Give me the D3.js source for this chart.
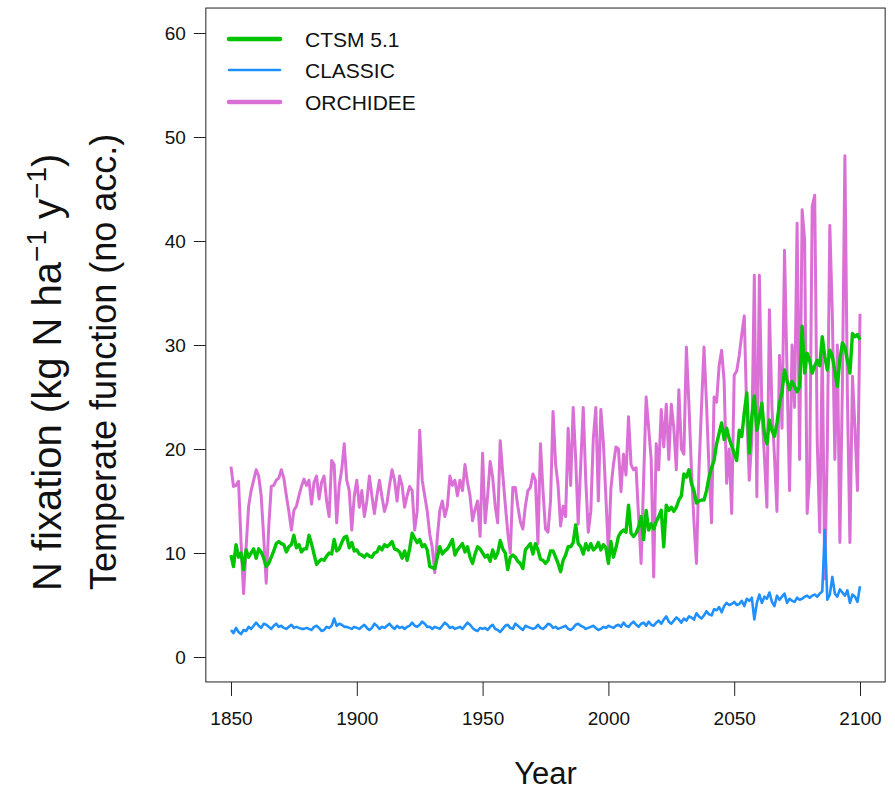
<!DOCTYPE html>
<html>
<head>
<meta charset="utf-8">
<script src="https://cdn.jsdelivr.net/npm/d3@7"></script>
<style>
  body { margin: 0; background: #fff; }
  text { font-family: "Liberation Sans", Arial, Helvetica, sans-serif; fill: #111; }
</style>
</head>
<body>
<svg id="chart" width="895" height="791"></svg>
<script>
// Annual N fixation, temperate function (no acclimation), 1850–2100
const startYear = 1850;
const endYear = 2100;

const ctsm = [
  9.8, 8.7, 10.8, 9.6, 10.0, 8.4, 10.3, 9.6, 10.0, 10.4,
  9.5, 10.4, 10.1, 9.5, 8.7, 9.0, 9.6, 10.2, 10.9, 11.1,
  10.9, 10.8, 10.1, 10.6, 10.8, 11.7, 10.5, 10.8, 10.1, 10.4,
  10.4, 11.7, 10.9, 9.9, 8.9, 9.2, 9.4, 9.3, 9.7, 10.0,
  9.9, 11.3, 10.2, 10.4, 11.0, 11.5, 11.6, 10.5, 11.0, 10.2,
  10.3, 9.9, 9.8, 9.6, 9.9, 9.7, 9.6, 10.0, 10.1, 10.6,
  10.3, 10.8, 10.6, 10.8, 11.1, 10.4, 10.3, 10.1, 9.5, 10.2,
  9.3, 10.4, 11.9, 11.4, 11.0, 11.3, 10.6, 10.8, 10.3, 8.7,
  8.6, 8.5, 9.6, 10.6, 9.9, 10.2, 10.4, 10.8, 11.3, 9.8,
  10.3, 10.6, 10.9, 10.1, 10.6, 9.6, 9.0, 9.9, 10.6, 10.4,
  10.0, 9.6, 9.8, 9.2, 10.3, 9.5, 10.0, 11.2, 10.4, 10.0,
  8.4, 9.6, 9.8, 9.6, 9.2, 9.0, 8.5, 10.3, 10.6, 10.9,
  9.9, 10.9, 10.3, 9.4, 9.3, 9.0, 9.3, 10.2, 10.2, 9.6,
  9.0, 8.2, 9.3, 9.8, 10.6, 10.6, 11.0, 12.7, 10.9, 10.6,
  9.9, 10.9, 10.3, 10.9, 10.3, 10.5, 11.0, 10.3, 10.8, 10.5,
  9.0, 11.1, 9.6, 10.5, 11.6, 12.0, 12.2, 12.0, 14.6, 11.9,
  11.6, 11.9, 12.5, 13.5, 11.3, 14.1, 12.2, 12.8, 12.3, 13.0,
  13.5, 14.1, 10.6, 14.6, 14.1, 14.4, 14.0, 14.4, 15.1, 15.5,
  17.6, 17.3, 18.0, 16.7, 16.0, 14.8, 15.0, 15.1, 15.1, 16.0,
  17.3, 18.2, 18.9, 20.5, 21.5, 22.5, 20.9, 22.0, 21.0, 20.3,
  19.6, 18.9, 21.8, 21.2, 23.5, 25.4, 19.6, 23.1, 25.1, 21.8,
  23.0, 24.4, 21.5, 20.5, 22.8, 21.8, 21.2, 22.5, 24.4, 25.5,
  27.6, 26.6, 25.7, 26.5, 26.0, 25.5, 26.0, 31.8, 27.3, 29.2,
  28.5, 27.3, 28.0, 28.5, 28.0, 30.8, 28.9, 27.6, 29.5, 28.9,
  27.5, 26.0, 28.6, 30.2, 29.8, 28.5, 27.3, 31.1, 30.8, 31.0,
  30.5
];

const classic = [
  2.6, 2.3, 2.8, 2.4, 2.2, 2.6, 2.5, 2.9, 2.7, 3.0,
  3.3, 3.0, 2.8, 3.2, 3.1, 2.9, 2.7, 3.0, 3.2, 2.9,
  3.0, 2.8, 2.7, 2.9, 3.1, 2.8, 2.9, 2.8, 2.7, 2.7,
  2.8, 2.7, 2.6, 2.9, 3.0, 2.8, 2.5, 2.6, 2.9, 2.8,
  3.0, 3.7, 3.0, 3.2, 3.1, 2.9, 2.9, 2.8, 2.7, 2.9,
  2.8, 2.7, 2.9, 3.1, 2.8, 2.6, 2.8, 3.2, 3.0, 2.7,
  2.9, 2.8, 3.0, 3.2, 2.9, 2.7, 3.0, 2.8, 2.9, 2.7,
  2.9, 3.0, 3.3, 3.0, 2.9, 3.1, 3.4, 3.2, 2.9, 2.9,
  2.7, 2.9, 2.8, 2.7, 3.0, 3.3, 3.1, 2.8, 2.9, 2.7,
  2.8, 2.9, 2.7, 3.0, 3.3, 3.1, 2.8, 2.6, 2.5, 2.8,
  2.7, 2.8, 2.6, 2.9, 3.1, 2.7, 2.6, 2.4, 2.7, 3.0,
  3.1, 2.8, 2.7, 3.2, 3.0, 2.8, 2.6, 3.0, 2.9, 2.8,
  2.7, 2.8, 3.1, 2.8, 2.7, 2.9, 3.2, 3.1, 2.8, 2.9,
  2.7, 2.8, 2.9, 3.0, 2.7, 2.6, 2.8, 3.1, 3.2, 3.0,
  2.9, 2.7, 2.8, 2.9, 3.0, 2.8, 2.6, 2.7, 2.9, 2.8,
  3.0, 2.9, 2.8, 3.0, 3.1, 2.9, 3.3, 3.0, 2.9, 3.2,
  3.4, 3.1, 2.9, 3.2, 3.3, 3.0, 3.4, 3.1, 3.0, 3.3,
  3.5, 3.2, 3.6, 3.9, 3.4, 3.2, 3.5, 3.8, 3.6, 3.3,
  3.7, 3.5, 3.9, 3.8, 3.6, 4.2, 3.9, 3.7, 4.0, 4.4,
  4.1, 4.0, 4.6, 4.5, 4.8, 4.3, 4.9, 5.2, 5.0, 5.1,
  5.3, 5.0, 5.1, 5.4, 4.9, 5.6, 5.4, 5.7, 3.6, 5.2,
  6.0, 5.2, 5.8, 5.6, 6.2, 5.3, 4.9, 5.9, 5.5, 5.8,
  6.1, 5.2, 5.6, 5.4, 5.3, 5.7, 5.5, 5.6, 5.8, 5.9,
  5.7, 5.9, 6.0, 5.8, 6.1, 6.3, 12.2, 5.5, 6.0, 7.7,
  6.1, 5.8, 6.5, 6.2, 5.9, 6.4, 5.2, 6.0, 5.8, 5.3,
  6.8
];

const orchidee = [
  18.3, 16.4, 16.5, 16.9, 11.0, 6.1, 10.5, 14.5, 16.0, 17.0,
  18.0, 17.4, 15.5, 11.5, 7.1, 12.5, 16.4, 16.5, 17.0, 17.2,
  18.0, 17.2, 15.5, 14.0, 12.2, 14.1, 14.5, 15.5, 16.4, 17.1,
  16.5, 17.0, 14.7, 16.8, 17.4, 15.2, 16.8, 17.4, 15.0, 13.5,
  18.9, 18.5, 12.9, 16.5, 18.0, 20.5, 17.0, 16.0, 12.2, 15.5,
  17.0, 14.4, 16.0, 13.5, 15.0, 17.4, 15.5, 13.8, 15.5, 17.0,
  15.4, 14.0, 14.8, 16.5, 18.0, 17.0, 15.0, 17.4, 16.5, 14.4,
  15.5, 16.4, 16.0, 12.2, 14.0, 21.8, 17.0, 15.5, 14.0, 11.8,
  10.5, 8.1, 11.5, 14.1, 15.0, 13.5, 14.5, 17.4, 16.5, 17.0,
  15.5, 17.0, 16.0, 18.5, 16.8, 15.5, 13.1, 14.2, 15.0, 11.6,
  19.6, 12.9, 15.5, 18.8, 17.3, 14.5, 12.9, 20.8, 17.6, 14.7,
  12.0, 10.0, 16.3, 16.3, 14.5, 13.0, 12.3, 14.5, 16.0, 16.3,
  17.6, 17.0, 10.9, 20.5, 16.0, 12.3, 12.0, 15.0, 23.6, 18.6,
  16.5, 12.6, 14.5, 13.5, 22.0, 16.5, 24.0, 19.0, 12.8, 18.5,
  24.0, 17.0, 12.0, 14.0, 21.0, 24.0, 15.0, 23.8, 20.6, 15.4,
  10.0, 16.2, 18.5, 20.2, 20.0, 15.9, 19.5, 17.5, 23.1, 18.5,
  18.0, 18.2, 13.5, 9.0, 17.0, 25.0, 22.0, 19.0, 7.7, 20.5,
  18.0, 23.8, 20.2, 24.3, 19.0, 24.3, 22.0, 18.0, 25.7, 20.0,
  19.5, 29.8, 24.3, 18.0, 13.0, 9.0, 18.0, 24.0, 29.8, 24.3,
  18.0, 12.9, 25.0, 24.5, 28.0, 29.5, 26.5, 16.7, 20.0, 13.8,
  27.1, 27.5, 29.0, 31.0, 32.8, 23.4, 17.0, 21.0, 36.7, 15.4,
  36.7, 23.7, 19.3, 14.4, 33.4, 24.0, 19.3, 14.0, 29.0, 22.0,
  39.1, 27.3, 16.0, 30.0, 24.0, 41.7, 19.0, 43.0, 40.1, 13.8,
  17.6, 43.3, 44.4, 20.8, 12.0, 30.0, 7.5, 20.0, 41.5, 33.0,
  19.0, 30.0, 11.0, 26.0, 48.2, 25.0, 11.0, 27.0, 22.0, 16.0,
  33.0
];

const seriesNames = ["CTSM 5.1", "CLASSIC", "ORCHIDEE"];
const seriesColors = ["#00c400", "#1e90ff", "#da70d6"];
const xTickValues = [1850, 1900, 1950, 2000, 2050, 2100];
const yTickValues = [0, 10, 20, 30, 40, 50, 60];

const years = d3.range(startYear, endYear + 1);

const svg = d3.select("#chart");

// Plot region; the axes extend 4% beyond the data range on each side
const x = d3.scaleLinear().domain([startYear, endYear]).range([231, 860]);
const y = d3.scaleLinear().domain([0, 60]).range([657, 33]);
const xPad = (endYear - startYear) * 0.04;
const yPad = 60 * 0.04;
const box = {
  left: x(startYear - xPad), right: x(endYear + xPad),
  top: y(60 + yPad), bottom: y(-yPad)
};

// Data lines (ORCHIDEE underneath, then CLASSIC, CTSM on top)
const line = d3.line()
  .x((d, i) => x(years[i]))
  .y(d => y(d));

const layers = [
  { values: orchidee, color: seriesColors[2], width: 3 },
  { values: classic, color: seriesColors[1], width: 2.6 },
  { values: ctsm, color: seriesColors[0], width: 3.4 }
];
layers.forEach(s => {
  svg.append("path")
    .datum(s.values)
    .attr("fill", "none")
    .attr("stroke", s.color)
    .attr("stroke-width", s.width)
    .attr("stroke-linejoin", "round")
    .attr("d", line);
});

// Frame
svg.append("rect")
  .attr("x", box.left).attr("y", box.top)
  .attr("width", box.right - box.left).attr("height", box.bottom - box.top)
  .attr("fill", "none").attr("stroke", "#222").attr("stroke-width", 1);

// X axis
const xAxis = d3.axisBottom(x).tickValues(xTickValues).tickFormat(d3.format("d"))
  .tickSize(14).tickPadding(16);
const gx = svg.append("g").attr("transform", `translate(0,${box.bottom})`).call(xAxis);
gx.select(".domain").remove();
gx.selectAll("line").attr("stroke", "#222");
gx.selectAll("text").attr("font-size", 19).attr("fill", "#111")
  .style("font-family", '"Liberation Sans", Arial, sans-serif');

// Y axis
const yAxis = d3.axisLeft(y).tickValues(yTickValues).tickSize(12).tickPadding(8);
const gy = svg.append("g").attr("transform", `translate(${box.left},0)`).call(yAxis);
gy.select(".domain").remove();
gy.selectAll("line").attr("stroke", "#222");
gy.selectAll("text").attr("font-size", 19).attr("fill", "#111")
  .style("font-family", '"Liberation Sans", Arial, sans-serif');

// Axis titles
svg.append("text")
  .attr("x", (box.left + box.right) / 2).attr("y", 784)
  .attr("text-anchor", "middle").attr("font-size", 31)
  .text("Year");

const t1 = svg.append("text")
  .attr("transform", "translate(61,591) rotate(-90)")
  .attr("text-anchor", "start").attr("font-size", 40);
t1.append("tspan").text("N fixation (kg N ha");
t1.append("tspan").attr("baseline-shift", "super").attr("font-size", 28).text("\u22121");
t1.append("tspan").text(" y");
t1.append("tspan").attr("baseline-shift", "super").attr("font-size", 28).text("\u22121");
t1.append("tspan").text(")");

svg.append("text")
  .attr("transform", "translate(116,590) rotate(-90)")
  .attr("text-anchor", "start").attr("font-size", 36)
  .text("Temperate function (no acc.)");

// Legend
const legendRows = [39, 70, 102];
const legendWidths = [4.5, 2.6, 4.5];
seriesNames.forEach((name, i) => {
  svg.append("line")
    .attr("x1", 229).attr("x2", 280)
    .attr("y1", legendRows[i]).attr("y2", legendRows[i])
    .attr("stroke", seriesColors[i]).attr("stroke-width", legendWidths[i])
    .attr("stroke-linecap", "round");
  svg.append("text")
    .attr("x", 305).attr("y", legendRows[i] + 7.5)
    .attr("font-size", 21)
    .text(name);
});
</script>
</body>
</html>
